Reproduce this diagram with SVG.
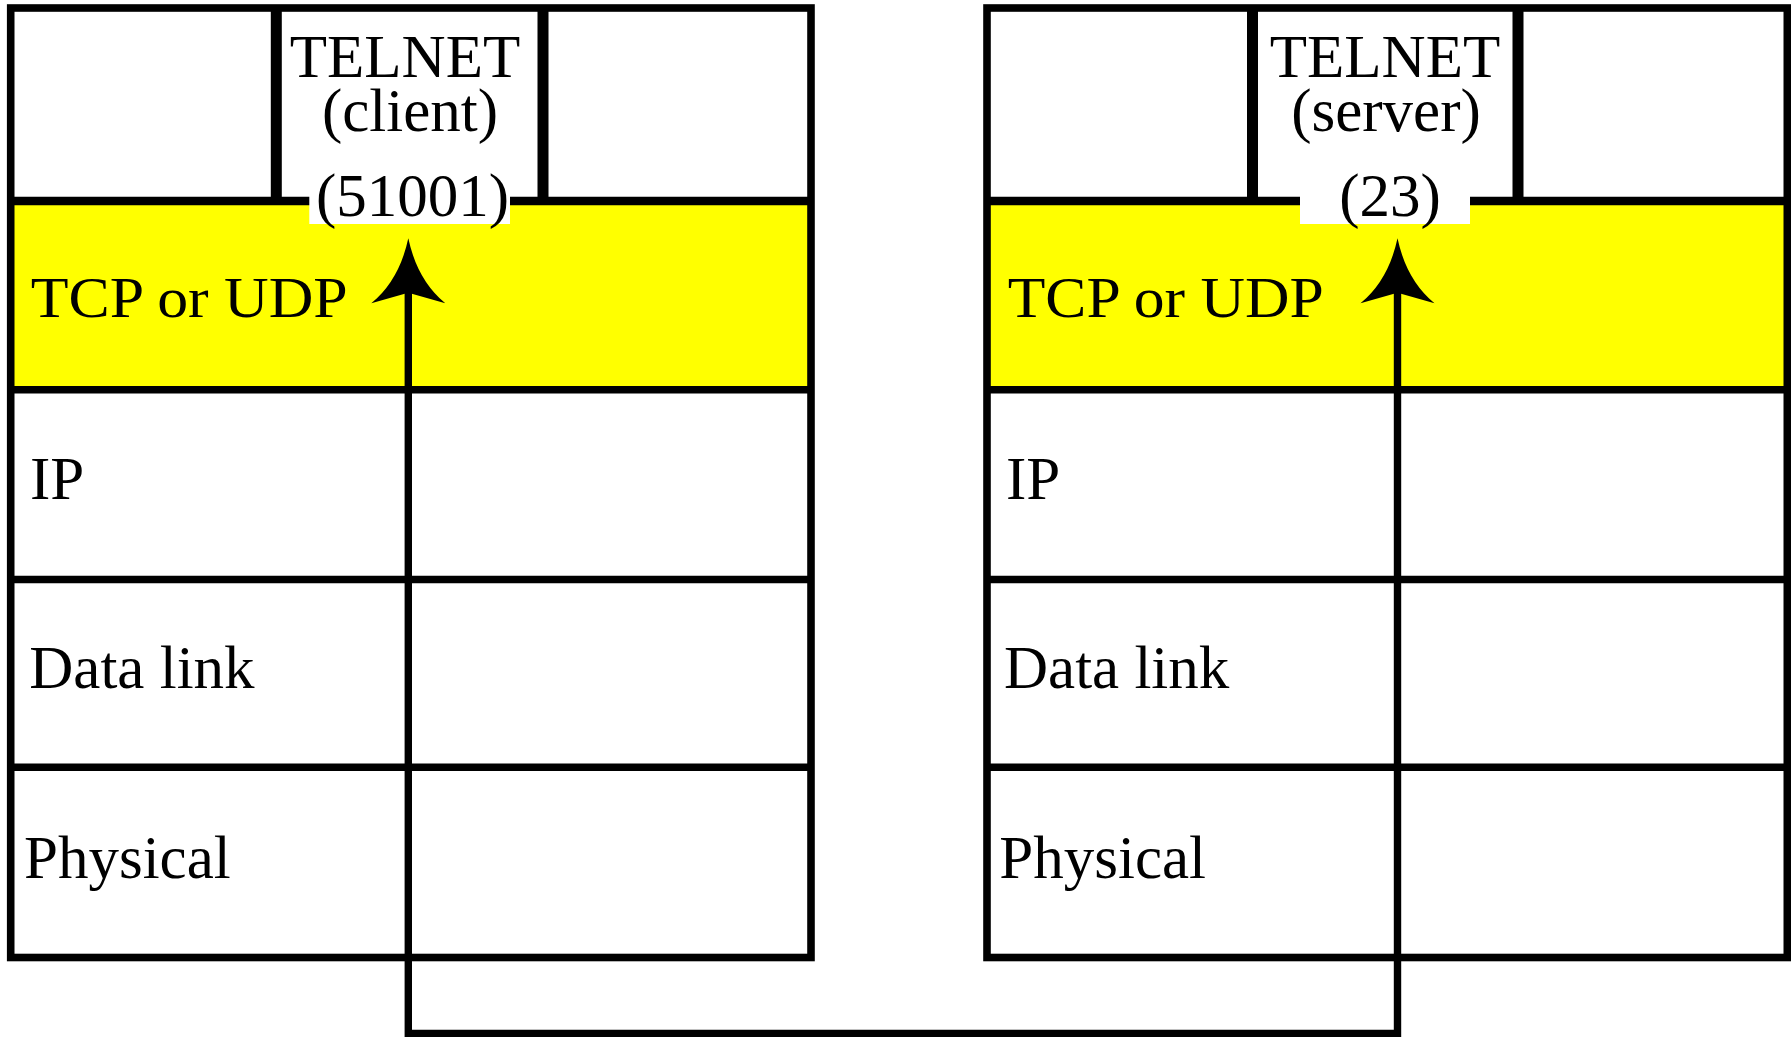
<svg xmlns="http://www.w3.org/2000/svg" width="1791" height="1037" viewBox="0 0 1791 1037">
<style>
  .ln { stroke: #000; stroke-width: 7.6; fill: none; }
  .dv { stroke: #000; stroke-width: 11; fill: none; }
  .yl { fill: #ffff00; }
  .t { font-family: "Liberation Serif", "Times New Roman", serif; font-size: 61px; fill: #000; }
  .c { text-anchor: middle; }
  .lab { fill: #fff; }
</style>
<defs>
  <path id="head" d="M0 0 Q -9 42 -37 65 L 0 54.5 L 37 65 Q 9 42 0 0 Z" fill="#000"/>
</defs>
<rect width="1791" height="1037" fill="#fff"/>

<g id="client-stack">
  <rect class="yl" x="10.7" y="201" width="800.3" height="188.7"/>
  <rect class="ln" x="10.7" y="8" width="800.3" height="949.5"/>
  <line class="ln" x1="10.7" y1="201" x2="811" y2="201" style="stroke-width:8.3"/>
  <line class="ln" x1="10.7" y1="389.7" x2="811" y2="389.7"/>
  <line class="ln" x1="10.7" y1="579.5" x2="811" y2="579.5"/>
  <line class="ln" x1="10.7" y1="767.2" x2="811" y2="767.2"/>
  <line class="dv" x1="276.3" y1="8" x2="276.3" y2="201"/>
  <line class="dv" x1="543" y1="8" x2="543" y2="201"/>
  <rect class="lab" x="309.3" y="196" width="200.7" height="28"/>
  <text class="t c" x="405" y="77">TELNET</text>
  <text class="t c" x="410" y="131">(client)</text>
  <text class="t c" x="412.5" y="216">(51001)</text>
  <text class="t" x="30.7" y="316.7" textLength="317" lengthAdjust="spacingAndGlyphs" style="font-size:58px">TCP or UDP</text>
  <text class="t" x="30" y="499.3">IP</text>
  <text class="t" x="29.3" y="688.3">Data link</text>
  <text class="t" x="24" y="878.3">Physical</text>
</g>

<g id="server-stack">
  <rect class="yl" x="987" y="201" width="800.3" height="188.7"/>
  <rect class="ln" x="987" y="8" width="800.3" height="949.5"/>
  <line class="ln" x1="987" y1="201" x2="1787.3" y2="201" style="stroke-width:8.3"/>
  <line class="ln" x1="987" y1="389.7" x2="1787.3" y2="389.7"/>
  <line class="ln" x1="987" y1="579.5" x2="1787.3" y2="579.5"/>
  <line class="ln" x1="987" y1="767.2" x2="1787.3" y2="767.2"/>
  <line class="dv" x1="1252.5" y1="8" x2="1252.5" y2="201"/>
  <line class="dv" x1="1518" y1="8" x2="1518" y2="201"/>
  <rect class="lab" x="1300" y="196" width="170" height="28"/>
  <text class="t c" x="1385" y="77">TELNET</text>
  <text class="t c" x="1386" y="131">(server)</text>
  <text class="t c" x="1390" y="216">(23)</text>
  <text class="t" x="1007.7" y="316.7" textLength="316" lengthAdjust="spacingAndGlyphs" style="font-size:58px">TCP or UDP</text>
  <text class="t" x="1006" y="499.3">IP</text>
  <text class="t" x="1004" y="688.3">Data link</text>
  <text class="t" x="999.3" y="878.3">Physical</text>
</g>

<g id="connectors">
  <path class="ln" style="stroke-width:7.4" d="M408.3 290 V1033.5 H1397.5 V290"/>
  <use href="#head" x="408.3" y="238.3"/>
  <use href="#head" x="1397.5" y="238.3"/>
</g>
</svg>
